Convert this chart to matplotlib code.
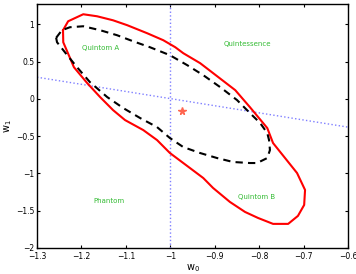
import matplotlib
matplotlib.use("Agg")
import matplotlib.pyplot as plt
import numpy as np

# Red solid contour (w0, w1)
red_w0 = [-1.2415, -1.230, -1.196, -1.165, -1.129, -1.097, -1.052, -1.016, -0.989, -0.971,
          -0.933, -0.895, -0.854, -0.821, -0.782, -0.769, -0.742, -0.715, -0.697, -0.699,
          -0.713, -0.735, -0.769, -0.803, -0.832, -0.866, -0.904, -0.926, -0.962, -1.001,
          -1.030, -1.061, -1.102, -1.129, -1.158, -1.187, -1.217, -1.241, -1.2415]
red_w1 = [0.92, 1.04, 1.134, 1.107, 1.053, 0.987, 0.879, 0.786, 0.692, 0.612,
          0.478, 0.304, 0.116, -0.112, -0.392, -0.593, -0.794, -0.995, -1.222, -1.423,
          -1.570, -1.677, -1.677, -1.597, -1.517, -1.383, -1.195, -1.062, -0.901, -0.727,
          -0.553, -0.419, -0.285, -0.151, 0.023, 0.210, 0.424, 0.759, 0.92]

# Black dashed contour
blk_w0 = [-1.257, -1.244, -1.226, -1.196, -1.158, -1.120, -1.084, -1.046, -1.001, -0.962,
          -0.926, -0.888, -0.850, -0.821, -0.798, -0.782, -0.778, -0.776, -0.782, -0.805,
          -0.821, -0.859, -0.895, -0.933, -0.971, -1.001, -1.030, -1.068, -1.106, -1.142,
          -1.181, -1.210, -1.232, -1.255, -1.257]
blk_w1 = [0.818, 0.920, 0.960, 0.973, 0.920, 0.853, 0.772, 0.692, 0.585, 0.451,
          0.317, 0.157, -0.017, -0.191, -0.325, -0.459, -0.553, -0.687, -0.794, -0.861,
          -0.861, -0.847, -0.794, -0.727, -0.647, -0.526, -0.379, -0.258, -0.124, 0.023,
          0.224, 0.424, 0.585, 0.759, 0.818]

# Dividing lines
vline_w0 = -1.0
slant_w0 = [-1.3, -0.6]
slant_w1 = [0.29, -0.38]

# Best fit point
star_w0 = [-0.973]
star_w1 = [-0.165]

# Region labels
labels = ["Quintom A", "Quintessence", "Phantom", "Quintom B"]
label_w0 = [-1.156, -0.827, -1.138, -0.805]
label_w1 = [0.68, 0.73, -1.37, -1.32]

xticks = [-1.3, -1.2, -1.1, -1.0, -0.9, -0.8, -0.7, -0.6]
xticklabels = ["\u22121.3", "\u22121.2", "\u22121.1", "\u22121", "\u22120.9", "\u22120.8", "\u22120.7", "\u22120.6"]
yticks = [-2, -1.5, -1, -0.5, 0, 0.5, 1]
yticklabels = ["\u22122", "\u22121.5", "\u22121", "\u22120.5", "0", "0.5", "1"]

fig = plt.figure(figsize=(3.56, 2.74), dpi=100)
ax = fig.add_axes([0.104, 0.095, 0.874, 0.890])

ax.plot([vline_w0, vline_w0], [-2, 1.27], linestyle=":", color="#7f7fff", lw=1.0)
ax.plot(slant_w0, slant_w1, linestyle=":", color="#7f7fff", lw=1.0)
ax.plot(red_w0, red_w1, color="red", lw=1.5)
ax.plot(blk_w0, blk_w1, color="black", lw=1.5, linestyle=(0, (3.5, 2.5)))
ax.plot(star_w0, star_w1, marker="*", color="#ff6650", markersize=5.5, linestyle="none")

for t, x, y in zip(labels, label_w0, label_w1):
    ax.text(x, y, t, color="#33bb33", fontsize=5, ha="center", va="center")

ax.set_xlim(-1.3, -0.6)
ax.set_ylim(-2, 1.27)
ax.set_xticks(xticks)
ax.set_xticklabels(xticklabels)
ax.set_yticks(yticks)
ax.set_yticklabels(yticklabels)
ax.tick_params(direction="in", labelsize=5.5, length=2.5, width=0.8, top=True, right=True, pad=2)
ax.tick_params(axis="x", pad=3)
for s in ax.spines.values():
    s.set_linewidth(1.0)
ax.set_xlabel("w$_0$", fontsize=7, labelpad=1)
ax.set_ylabel("w$_1$", fontsize=7, labelpad=1)

fig.savefig("out.png", dpi=100)
